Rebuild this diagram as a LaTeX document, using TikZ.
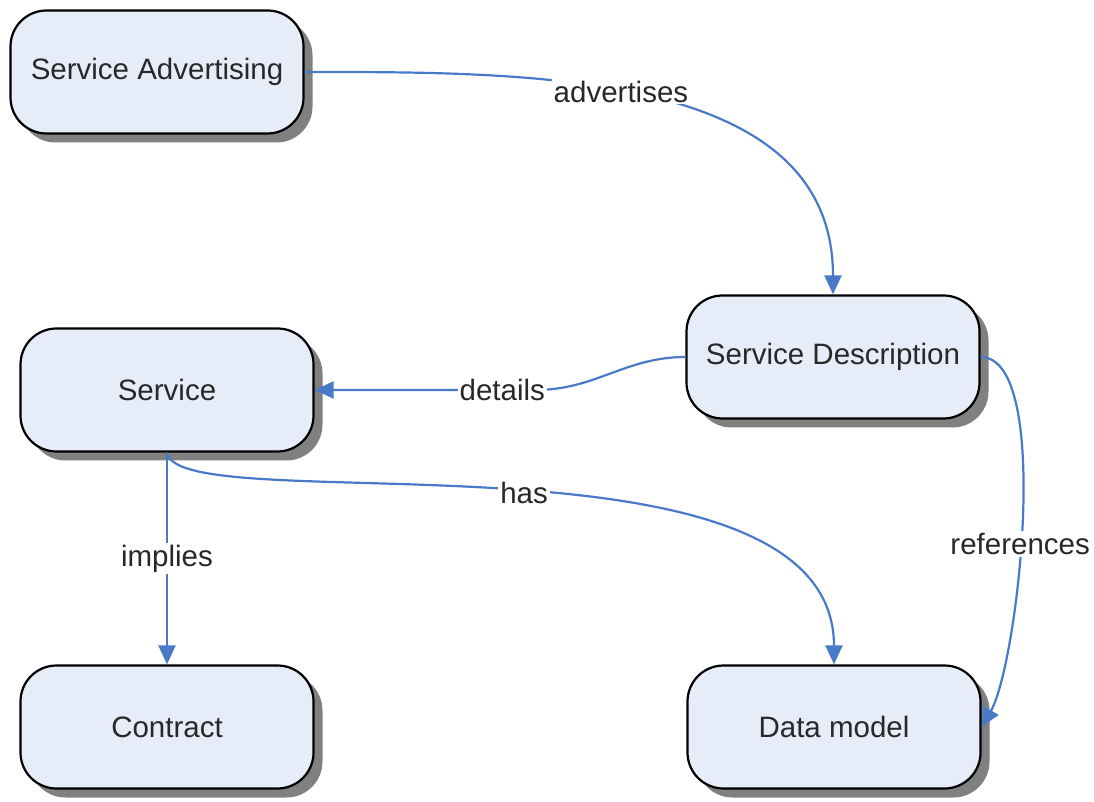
\documentclass[tikz,border=0pt]{standalone}
\usepackage{fontspec}
\setmainfont{Liberation Sans}
\usepackage{xcolor}
\usepackage{tikz}
\usetikzlibrary{
  arrows.meta,
  calc,
  shadows
}
\definecolor{boxfill}{RGB}{230,236,248}
\definecolor{linkblue}{RGB}{72,122,200}
\definecolor{inkgray}{RGB}{40,40,40}

\begin{document}
\begin{tikzpicture}[x=1pt, y=1pt,
    every node/.style={font=\fontsize{29.5}{34}\selectfont, text=inkgray},
    concept/.style={draw=black, line width=2.2pt, fill=boxfill, rounded corners=36pt,
      minimum width=293pt, minimum height=123pt,
      drop shadow={shadow xshift=9pt, shadow yshift=-9pt, fill=black!50, opacity=1}},
    link/.style={draw=linkblue, line width=2.2pt, -{Triangle[length=19pt, width=17pt]}},
    tag/.style={fill=white, inner sep=2pt}]
\useasboundingbox (0,0) rectangle (1094,801);
\node [concept] (adv)  at (157,729) {Service Advertising};
\node [concept] (desc) at (833,444) {Service Description};
\node [concept] (serv) at (167,411) {Service};
\node [concept] (con)  at (167,74)  {Contract};
\node [concept] (dm)   at (834,74)  {Data model};

\draw [link] (adv.east) to[out=0, in=90] node[tag, pos=0.45] {advertises} (desc.north);
\draw [link] (desc.west) to[out=180, in=0] ($(desc.west |- serv.east)+(-150,0)$)
  -- node[tag, pos=0.15] {details} (serv.east);
\draw [link] (serv.south) .. controls +(10,-70) and +(0,250) .. (dm.north)
  node[tag, pos=0.52] {has};
\draw [link] (serv.south) -- node[tag, midway] {implies} (con.north);
\draw [link] (desc.east) to[out=0, in=60, looseness=0.5] node[tag, pos=0.55] {references} (dm.east);
\end{tikzpicture}
\end{document}
